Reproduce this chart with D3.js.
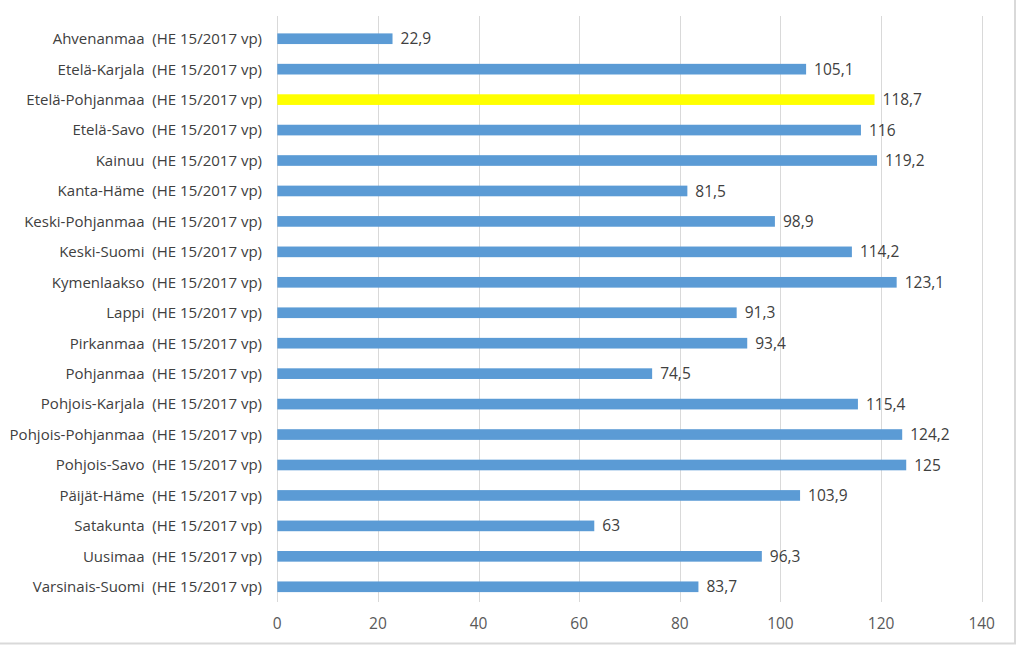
<!DOCTYPE html>
<html><head><meta charset="utf-8">
<script src="https://cdn.jsdelivr.net/npm/d3@7"></script>
<style>body{margin:0;background:#fff}svg{display:block}</style>
</head><body>
<script>
const categories = ["Ahvenanmaa","Etelä-Karjala","Etelä-Pohjanmaa","Etelä-Savo","Kainuu","Kanta-Häme","Keski-Pohjanmaa","Keski-Suomi","Kymenlaakso","Lappi","Pirkanmaa","Pohjanmaa","Pohjois-Karjala","Pohjois-Pohjanmaa","Pohjois-Savo","Päijät-Häme","Satakunta","Uusimaa","Varsinais-Suomi"];
const labelSuffix = "\u00a0\u00a0(HE 15/2017 vp)";
const values = [22.9,105.1,118.7,116,119.2,81.5,98.9,114.2,123.1,91.3,93.4,74.5,115.4,124.2,125,103.9,63,96.3,83.7];
const highlighted = ["Etelä-Pohjanmaa"];
const xTicks = [0,20,40,60,80,100,120,140];

const W=1019,H=647;
const svg=d3.select("body").append("svg").attr("width",W).attr("height",H);
svg.append("rect").attr("x",-2).attr("y",-2).attr("width",1017).attr("height",645.5)
  .attr("fill","#fff").attr("stroke","#d9d9d9").attr("stroke-width",2);

const x=d3.scaleLinear().domain([0,140]).range([277.3,981.7]);
const y=d3.scaleBand().domain(categories).range([23.5,602]).paddingInner(0.65).paddingOuter(0.325);
const font="'Open Sans', sans-serif";

// gridlines
svg.append("g").selectAll("line").data(xTicks).join("line")
  .attr("x1",d=>Math.round(x(d))+0.5).attr("x2",d=>Math.round(x(d))+0.5)
  .attr("y1",16).attr("y2",602).attr("stroke","#d9d9d9").attr("stroke-width",1);

// x axis labels
svg.append("g").selectAll("text").data(xTicks).join("text")
  .attr("x",d=>x(d)).attr("y",623).attr("dy","0.36em").attr("text-anchor","middle")
  .attr("font-family",font).attr("font-size",15.5).attr("fill","#595959").text(d=>d);

// bars
svg.append("g").selectAll("rect").data(categories).join("rect")
  .attr("x",x(0)).attr("y",d=>y(d)).attr("height",y.bandwidth())
  .attr("width",(d,i)=>x(values[i])-x(0))
  .attr("fill",d=>highlighted.includes(d)?"#ffff00":"#5b9bd5");

// value labels
svg.append("g").selectAll("text").data(categories).join("text")
  .attr("x",(d,i)=>x(values[i])+8).attr("y",d=>y(d)+y.bandwidth()/2)
  .attr("dy","0.36em").attr("font-family",font).attr("font-size",15.5).attr("fill","#404040")
  .text((d,i)=>String(values[i]).replace(".",","));

// category labels
svg.append("g").selectAll("text").data(categories).join("text")
  .attr("x",262).attr("y",d=>y(d)+y.bandwidth()/2).attr("text-anchor","end")
  .attr("dy","0.36em").attr("font-family",font).attr("font-size",15).attr("fill","#404040")
  .text(d=>d+labelSuffix);
</script>
</body></html>
